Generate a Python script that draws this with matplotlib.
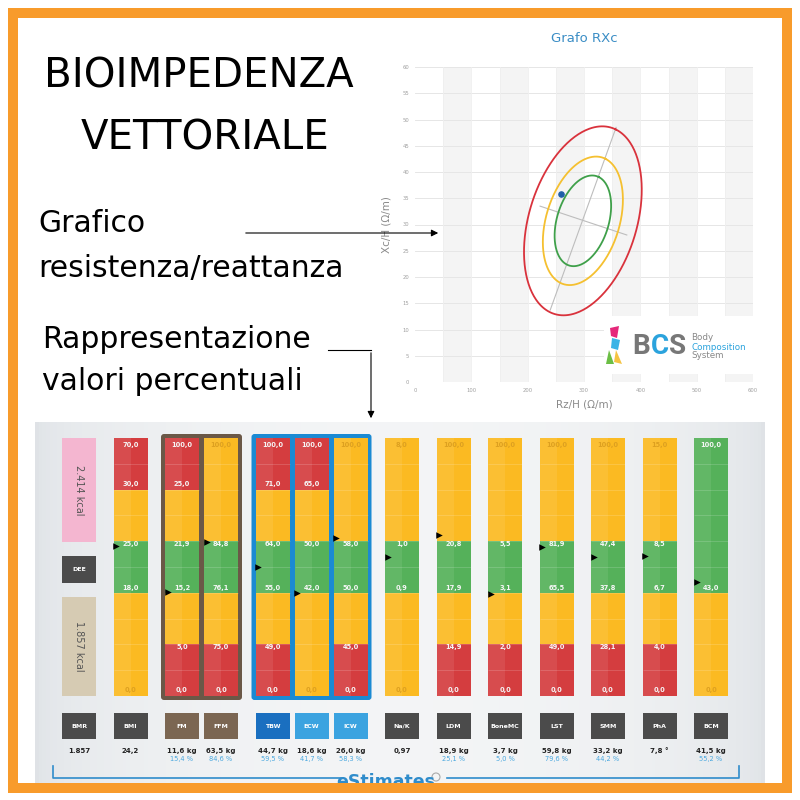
import numpy as np
import matplotlib
matplotlib.use("Agg")
import matplotlib.pyplot as plt
from matplotlib.patches import Rectangle, FancyBboxPatch, Polygon, Circle

# ---- grafico RXc ----
rx_center = (298, 30.7)
rx_major = (58.5, 17.4)      # semiasse ellisse esterna
rx_minor = (86.6, -4.6)
ellipse_scale = [1.0, 0.68, 0.48]
ellipse_colors = ["#d9323c", "#f5c030", "#3fa04a"]
axis_major_rz = [240, 357]
axis_major_xc = [13.7, 48.5]
axis_minor_rz = [222, 376]
axis_minor_xc = [33.5, 28.0]
patient_rz = [260]
patient_xc = [35.8]

# ---- barre percentuali ----
names = ["BMI", "FM", "FFM", "TBW", "ECW", "ICW", "Na/K", "LDM", "BoneMC", "LST", "SMM", "PhA", "BCM"]
groups = [0, 1, 1, 2, 2, 2, 3, 4, 5, 6, 7, 8, 9]
# fasce dal basso verso l'alto
bands = ["YYGYR", "RYGYR", "RYGYY", "RYGYR", "YYGYR", "RYGYY", "YYGYY",
         "RYGYY", "RYGYY", "RYGYY", "RYGYY", "RYGYY", "YYGGG"]
limits = [
    ["0,0", None, "18,0", "25,0", "30,0", "70,0"],
    ["0,0", "5,0", "15,2", "21,9", "25,0", "100,0"],
    ["0,0", "75,0", "76,1", "84,8", None, "100,0"],
    ["0,0", "49,0", "55,0", "64,0", "71,0", "100,0"],
    ["0,0", None, "42,0", "50,0", "65,0", "100,0"],
    ["0,0", "45,0", "50,0", "58,0", None, "100,0"],
    ["0,0", None, "0,9", "1,0", None, "8,0"],
    ["0,0", "14,9", "17,9", "20,8", None, "100,0"],
    ["0,0", "2,0", "3,1", "5,5", None, "100,0"],
    ["0,0", "49,0", "65,5", "81,9", None, "100,0"],
    ["0,0", "28,1", "37,8", "47,4", None, "100,0"],
    ["0,0", "4,0", "6,7", "8,5", None, "15,0"],
    ["0,0", None, "43,0", None, None, "100,0"],
]
marker_pos = [2.91, 2.02, 2.98, 2.5, 2.0, 3.06, 2.69, 3.12, 1.98, 2.89, 2.69, 2.71, 2.21]
values = ["24,2", "11,6 kg", "63,5 kg", "44,7 kg", "18,6 kg", "26,0 kg", "0,97",
          "18,9 kg", "3,7 kg", "59,8 kg", "33,2 kg", "7,8 °", "41,5 kg"]
percents = [None, "15,4 %", "84,6 %", "59,5 %", "41,7 %", "58,3 %", None,
            "25,1 %", "5,0 %", "79,6 %", "44,2 %", None, "55,2 %"]
box_colors = ["#4b4b4b", "#7b6652", "#7b6652", "#1a6fc0", "#3ba3e0", "#3ba3e0", "#4b4b4b",
              "#4b4b4b", "#4b4b4b", "#4b4b4b", "#4b4b4b", "#4b4b4b", "#4b4b4b"]
dee_kcal = "2.414 kcal"
bmr_kcal = "1.857 kcal"
bmr_value = "1.857"

band_col = {"R": "#d43d3f", "Y": "#fbba22", "G": "#55b15a"}

fig = plt.figure(figsize=(8, 8), dpi=100)

# sfondo in pixel
bg = fig.add_axes([0, 0, 1, 1], zorder=0)
bg.set_xlim(0, 800); bg.set_ylim(800, 0); bg.axis("off")
gx = np.linspace(0, 1, 200)
w = np.sin(np.pi * gx) ** 0.5
edge = np.array([0.875, 0.890, 0.905])
mid = np.array([0.955, 0.960, 0.965])
grad = edge[None, :] + w[:, None] * (mid - edge)[None, :]
grad = np.tile(grad[None, :, :], (50, 1, 1))
bg.imshow(grad, extent=(35, 765, 790, 422), aspect="auto")
bg.set_xlim(0, 800); bg.set_ylim(800, 0)

# posizioni colonne
xpos = []
x = 130.5
for i, g in enumerate(groups):
    if i > 0:
        x += 39 if g == groups[i - 1] else 51.5
    xpos.append(x)
xpos = np.array(xpos)
bw = 34
top_px, bot_px = 438, 696

# cornici dei gruppi
for g, col in [(1, "#6b5847"), (2, "#1b8ad3")]:
    xs = xpos[np.array(groups) == g]
    bg.add_patch(FancyBboxPatch((xs.min() - bw / 2 - 4, top_px - 4), xs.max() - xs.min() + bw + 8,
                                bot_px - top_px + 8, boxstyle="round,pad=0,rounding_size=3",
                                facecolor=col, edgecolor="none"))

# colonna sinistra BMR/DEE
bx = 79
bg.add_patch(Rectangle((bx - 17, 438), 34, 104, facecolor="#f4b6d0"))
bg.text(bx, 490, dee_kcal, rotation=270, ha="center", va="center", fontsize=7, color="#555555")
bg.add_patch(Rectangle((bx - 17, 556), 34, 27, facecolor="#4b4b4b"))
bg.text(bx, 569.5, "DEE", ha="center", va="center", fontsize=4.5, color="white", weight="bold")
bg.add_patch(Rectangle((bx - 17, 597), 34, 99, facecolor="#d6cbb3"))
bg.text(bx, 646, bmr_kcal, rotation=270, ha="center", va="center", fontsize=7, color="#555555")
bg.add_patch(Rectangle((bx - 17, 713), 34, 26, facecolor="#4b4b4b"))
bg.text(bx, 726, "BMR", ha="center", va="center", fontsize=4.5, color="white", weight="bold")
bg.text(bx, 751, bmr_value, ha="center", va="center", fontsize=5, color="#222222", weight="bold")

for i, name in enumerate(names):
    xc = xpos[i]
    bg.add_patch(Rectangle((xc - bw / 2, 713), bw, 26, facecolor=box_colors[i]))
    bg.text(xc, 726, name, ha="center", va="center", fontsize=4.5, color="white", weight="bold")
    bg.text(xc, 751, values[i], ha="center", va="center", fontsize=5, color="#222222", weight="bold")
    if percents[i]:
        bg.text(xc, 758.5, percents[i], ha="center", va="center", fontsize=4.8, color="#4aa8df")

# barre
gax = fig.add_axes([0, (800 - bot_px) / 800, 1, (bot_px - top_px) / 800], zorder=2)
gax.set_xlim(0, 800); gax.set_ylim(0, 5); gax.axis("off")
for i, name in enumerate(names):
    xc = xpos[i]
    cols = [band_col[c] for c in bands[i]]
    gax.bar([xc] * 5, [1] * 5, bottom=np.arange(5), width=bw, color=cols, linewidth=0)
    gax.bar([xc - bw / 4], [5], width=bw / 2, color="white", alpha=0.08, linewidth=0)
    gax.hlines(np.arange(0.5, 5, 0.5), xc - bw / 2, xc + bw / 2, color="white", alpha=0.22, lw=0.5)
    for k, lab in enumerate(limits[i]):
        if lab is None:
            continue
        if k == 0:
            y, seg = 0.11, bands[i][0]
        elif k == 5:
            y, seg = 4.87, bands[i][4]
        elif bands[i][k] != "Y":
            y, seg = k + 0.1, bands[i][k]
        else:
            y, seg = k - 0.06, bands[i][k - 1]
        tc = "#dda020" if seg == "Y" else "#f6f6f6"
        gax.text(xc, y, lab, ha="center", va="center", fontsize=4.8, color=tc, weight="bold")
gax.scatter(xpos - bw / 2 + 2.5, marker_pos, marker=">", s=22, color="black", zorder=5,
            clip_on=False, linewidths=0)

# grafico RXc
rx = fig.add_axes([415 / 800, (800 - 382) / 800, 338 / 800, 315 / 800], zorder=1)
rx.set_xlim(0, 600); rx.set_ylim(0, 60)
for a in range(50, 600, 100):
    rx.axvspan(a, a + 50, color="#f4f4f4", lw=0, zorder=0)
rx.set_xticks(range(0, 601, 100)); rx.set_yticks(range(0, 61, 5))
for yv in range(5, 61, 5):
    rx.axhline(yv, color="#e6e6e6", lw=0.7, zorder=1)
for xv in range(50, 601, 50):
    rx.axvline(xv, color="#efefef", lw=0.6, zorder=1)
rx.tick_params(labelsize=3.8, colors="#a0a0a0", length=0, pad=4)
for s in rx.spines.values():
    s.set_visible(False)
rx.set_title("Grafo RXc", fontsize=9.5, color="#3a8dc5", pad=18)
rx.set_xlabel("Rz/H (Ω/m)", fontsize=7.5, color="#8a8a8a", labelpad=5)
rx.set_ylabel("Xc/H (Ω/m)", fontsize=7.5, color="#8a8a8a", labelpad=8)
rx.plot(axis_major_rz, axis_major_xc, color="#bdbdbd", lw=0.8, zorder=2)
rx.plot(axis_minor_rz, axis_minor_xc, color="#bdbdbd", lw=0.8, zorder=2)
t = np.linspace(0, 2 * np.pi, 300)
for sc, col in zip(ellipse_scale, ellipse_colors):
    ex = rx_center[0] + sc * (rx_major[0] * np.cos(t) + rx_minor[0] * np.sin(t))
    ey = rx_center[1] + sc * (rx_major[1] * np.cos(t) + rx_minor[1] * np.sin(t))
    rx.plot(ex, ey, color=col, lw=1.3, zorder=3)
rx.scatter(patient_rz, patient_xc, s=14, color="#1f5fa8", zorder=4)
rx.add_patch(Rectangle((335, 1.5), 265, 11, facecolor="white", edgecolor="none", zorder=3))

# livello superiore: testi, frecce, bordo
top = fig.add_axes([0, 0, 1, 1], zorder=5)
top.set_xlim(0, 800); top.set_ylim(800, 0); top.axis("off")
tfont = "DejaVu Sans"
top.text(199, 77, "BIOIMPEDENZA", ha="center", va="center", fontsize=29, family=tfont)
top.text(205, 138, "VETTORIALE", ha="center", va="center", fontsize=29, family=tfont)
top.text(38, 224, "Grafico", ha="left", va="center", fontsize=21.5, family=tfont)
top.text(38, 268, "resistenza/reattanza", ha="left", va="center", fontsize=21.5, family=tfont)
top.text(42, 339, "Rappresentazione", ha="left", va="center", fontsize=21.5, family=tfont)
top.text(42, 381, "valori percentuali", ha="left", va="center", fontsize=21.5, family=tfont)
top.annotate("", xy=(441, 233), xytext=(243, 233),
             arrowprops=dict(arrowstyle="-|>", color="black", lw=0.8, mutation_scale=10))
top.plot([328, 371], [350, 350], color="black", lw=0.8)
top.annotate("", xy=(371, 421), xytext=(371, 350),
             arrowprops=dict(arrowstyle="-|>", color="black", lw=0.8, mutation_scale=10))

# logo BCS
for letter, lx, lc in [("B", 641, "#777777"), ("C", 659.5, "#2ba3dd"), ("S", 678, "#777777")]:
    top.text(lx, 346, letter, ha="center", va="center", fontsize=20, color=lc, weight="bold",
             family="Roboto")
top.text(691, 338, "Body", fontsize=6.3, color="#888888", va="center")
top.text(691, 347, "Composition", fontsize=6.3, color="#2ba3dd", va="center")
top.text(691, 356, "System", fontsize=6.3, color="#888888", va="center")
top.add_patch(Polygon([(610, 328), (619, 326), (617, 338), (611, 336)], facecolor="#e5287a"))
top.add_patch(Polygon([(612, 338), (620, 340), (618, 350), (611, 348)], facecolor="#3ab4e6"))
top.add_patch(Polygon([(609, 350), (614, 364), (606, 364)], facecolor="#6bbe45"))
top.add_patch(Polygon([(616, 350), (622, 364), (614, 362)], facecolor="#f5c342"))

# eStimates
ec = "#2f8ccb"
top.plot([53, 53, 343], [766, 778, 778], color=ec, lw=1.2)
top.plot([447, 739, 739], [778, 778, 766], color=ec, lw=1.2)
top.text(386, 787, "eStimates", ha="center", va="baseline", fontsize=12.5, color=ec, weight="bold")
top.add_patch(Circle((436, 777), 4, facecolor="none", edgecolor="#aaaaaa", lw=0.8))

# bordo arancione
top.add_patch(Rectangle((13, 13), 774, 775, facecolor="none", edgecolor="#f89b2b", lw=7.2,
                        zorder=10))

fig.savefig("out.png", dpi=100)
